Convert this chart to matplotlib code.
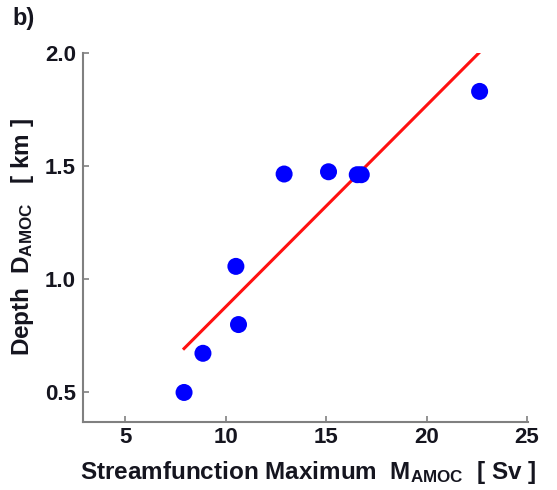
import numpy as np
import matplotlib
matplotlib.use("Agg")
import matplotlib.pyplot as plt

# streamfunction maximum (Sv) vs depth (km)
m_amoc = [7.93, 8.87, 10.51, 10.64, 12.91, 15.12, 16.55, 16.75, 22.64]
d_amoc = [0.50, 0.673, 1.057, 0.80, 1.465, 1.475, 1.462, 1.462, 1.83]

# fitted line end points
fit_x = [7.93, 22.64]
fit_y = [0.694, 2.003]

xticks = [5, 10, 15, 20, 25]
yticks = [0.5, 1.0, 1.5, 2.0]

plt.rcParams['font.family'] = ['Liberation Sans', 'DejaVu Sans']
plt.rcParams['mathtext.fontset'] = 'custom'
plt.rcParams['mathtext.rm'] = 'Liberation Sans:bold'
plt.rcParams['mathtext.bf'] = 'Liberation Sans:bold'
plt.rcParams['mathtext.default'] = 'bf'

txt = '#15151f'

fig = plt.figure(figsize=(5.57, 4.9), dpi=100)
ax = fig.add_axes([0.149, 0.139, 0.799, 0.753])

ax.plot(fit_x, fit_y, color='#ff1010', lw=2.2, zorder=2)
ax.scatter(m_amoc, d_amoc, s=150, color='#0000ff', edgecolors='none', zorder=3)

ax.set_xlim(2.9, 25.05)
ax.set_ylim(0.37, 2.0)
ax.set_xticks(xticks)
ax.set_yticks(yticks)
ax.set_xticklabels([str(t) for t in xticks])
ax.set_yticklabels(['%.1f' % t for t in yticks])

for s in ['top', 'right']:
    ax.spines[s].set_visible(False)
for s in ['left', 'bottom']:
    ax.spines[s].set_color('#808080')
    ax.spines[s].set_linewidth(1.5)
ax.tick_params(direction='in', length=4, width=1.2, color='#808080',
               labelsize=16, labelcolor=txt, pad=5)
ax.tick_params(axis='x', pad=4)
for lab in ax.get_xticklabels() + ax.get_yticklabels():
    lab.set_fontweight('bold')

ax.set_xlabel(r'Streamfunction Maximum  M$_{AMOC}$  [ Sv ]', fontsize=17.5,
              fontweight='bold', color=txt)
ax.set_ylabel(r'Depth  D$_{AMOC}$   [ km ]', fontsize=17.5,
              fontweight='bold', color=txt)
ax.xaxis.set_label_coords(0.505, -0.1)
ax.yaxis.set_label_coords(-0.105, 0.5)

fig.text(0.022, 0.948, 'b)', fontsize=17, fontweight='bold', color=txt)

fig.savefig('out.png', dpi=100)
